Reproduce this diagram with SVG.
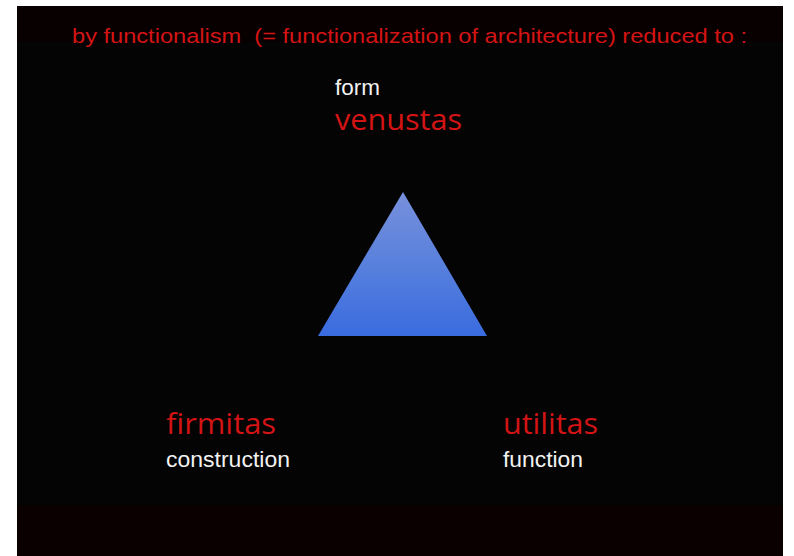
<svg xmlns="http://www.w3.org/2000/svg" width="794" height="556" viewBox="0 0 794 556">
<defs>
<linearGradient id="tri" x1="0" y1="0" x2="0" y2="1">
<stop offset="0" stop-color="#7890dc"/>
<stop offset="0.5" stop-color="#5880dc"/>
<stop offset="1" stop-color="#3a6ce0"/>
</linearGradient>
<style>
.w{fill:#f2f2f2;font-family:"Liberation Sans",Arial,sans-serif;font-size:22px}
.r{fill:#d41414;font-family:"Open Sans","Noto Sans",sans-serif;font-size:30px}
.t{fill:#d41414;font-family:"Liberation Sans",Arial,sans-serif;font-size:21px;white-space:pre}
</style>
</defs>
<rect width="794" height="556" fill="#ffffff"/>
<rect x="17" y="6" width="766" height="550" fill="#040404"/>
<rect x="17" y="6" width="766" height="36" fill="#080000"/>
<rect x="17" y="505" width="766" height="51" fill="#0a0000"/>
<text class="t" x="72" y="43" xml:space="preserve" textLength="675" lengthAdjust="spacingAndGlyphs">by functionalism  (= functionalization of architecture) reduced to :</text>
<g id="venustas">
<text class="w" x="335" y="95" font-size="21" textLength="45" lengthAdjust="spacingAndGlyphs">form</text>
<text class="r" x="335" y="130" textLength="127" lengthAdjust="spacingAndGlyphs">venustas</text>
</g>
<g id="triangle">
<polygon points="403,192 487,336 318,336" fill="url(#tri)"/>
</g>
<g id="firmitas">
<text class="r" x="166" y="434" textLength="110" lengthAdjust="spacingAndGlyphs">firmitas</text>
<text class="w" x="166" y="467" textLength="124" lengthAdjust="spacingAndGlyphs">construction</text>
</g>
<g id="utilitas">
<text class="r" x="503" y="434" textLength="95" lengthAdjust="spacingAndGlyphs">utilitas</text>
<text class="w" x="503" y="467" textLength="80" lengthAdjust="spacingAndGlyphs">function</text>
</g>
<g id="connectors"/>
</svg>
